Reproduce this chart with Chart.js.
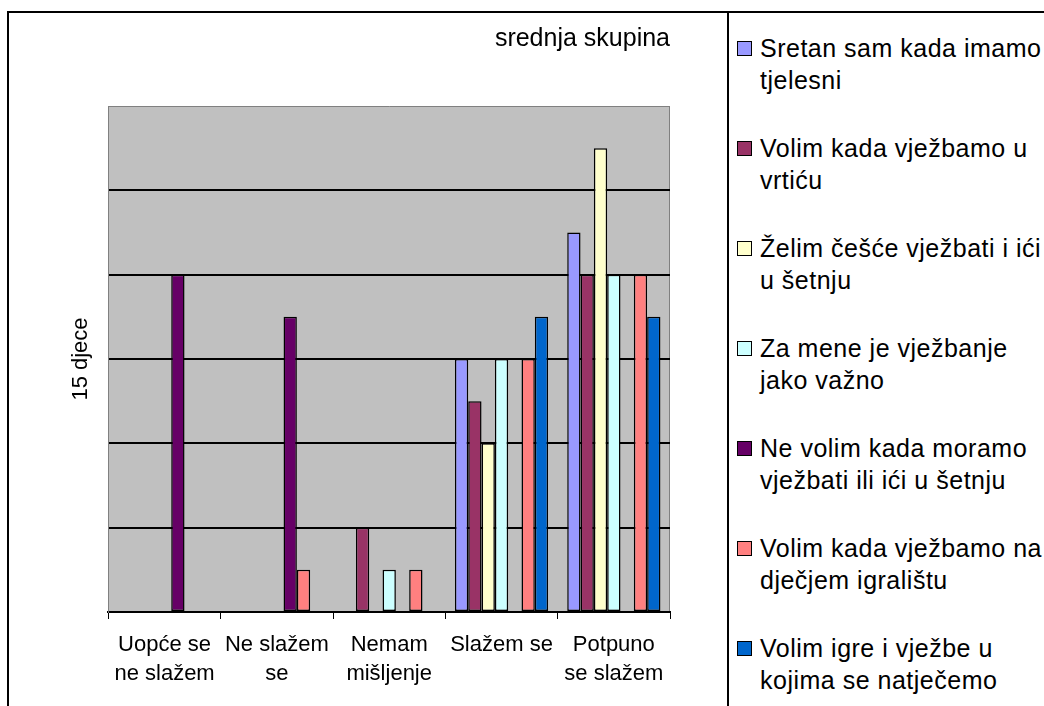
<!DOCTYPE html>
<html>
<head>
<meta charset="utf-8">
<script src="https://cdn.jsdelivr.net/npm/chart.js@4.4.1/dist/chart.umd.min.js"></script>
<style>
  html, body { margin: 0; padding: 0; background: #fff; }
  body { width: 1044px; height: 706px; position: relative; overflow: hidden; font-family: 'Liberation Sans', Arial, sans-serif; }
  #frame { position: absolute; left: 7px; top: 11px; right: 0; bottom: 0; border-left: 2px solid #000; border-top: 2px solid #000; }
  #plot { position: absolute; left: 0; top: 0; width: 718px; height: 693px; }
  #legend { position: absolute; left: 718px; top: 0; right: 0; bottom: 0; border-left: 2px solid #000; }
  #legend ul { list-style: none; margin: 0; padding: 19px 0 0 8px; }
  #legend li { display: flex; align-items: flex-start; margin-bottom: 36px; font-size: 25px; letter-spacing: 0.5px; line-height: 32px; color: #000; white-space: nowrap; }
  #legend .swatch { flex: none; box-sizing: border-box; width: 15px; height: 15px; border: 1px solid #000; margin: 9px 8px 0 0; }
</style>
</head>
<body>
<div id="frame">
  <div id="plot"><canvas id="skupinaChart"></canvas></div>
  <div id="legend"><ul id="legendList"></ul></div>
</div>
<script>
// odgovori srednje skupine (broj djece po tvrdnji)
const kategorije = [['Uopće se', 'ne slažem'], ['Ne slažem', 'se'], ['Nemam', 'mišljenje'], 'Slažem se', ['Potpuno', 'se slažem']];

const sretanTjelesni = [0, 0, 0, 6, 9];
const vjezbanjeVrtic = [0, 0, 2, 5, 8];
const cesceVjezbati = [0, 0, 0, 4, 11];
const vjezbanjeVazno = [0, 0, 1, 6, 8];
const neVolimVjezbati = [8, 7, 0, 0, 0];
const djecjeIgraliste = [0, 1, 1, 6, 8];
const igreNatjecanje = [0, 0, 0, 7, 7];

const nazivi = [
  ['Sretan sam kada imamo', 'tjelesni'],
  ['Volim kada vježbamo u', 'vrtiću'],
  ['Želim češće vježbati i ići', 'u šetnju'],
  ['Za mene je vježbanje', 'jako važno'],
  ['Ne volim kada moramo', 'vježbati ili ići u šetnju'],
  ['Volim kada vježbamo na', 'dječjem igralištu'],
  ['Volim igre i vježbe u', 'kojima se natječemo']
];
const vrijednosti = [sretanTjelesni, vjezbanjeVrtic, cesceVjezbati, vjezbanjeVazno, neVolimVjezbati, djecjeIgraliste, igreNatjecanje];
const boje = ['#9999FF', '#993366', '#FFFFCC', '#CCFFFF', '#660066', '#FF8080', '#0066CC'];

Chart.defaults.font.family = "'Liberation Sans', Arial, sans-serif";
Chart.defaults.color = '#000';

// sivo polje grafa i desni rub
const pozadina = {
  id: 'pozadina',
  beforeDraw(chart) {
    const { ctx, chartArea: { left, top, right, bottom } } = chart;
    ctx.save();
    ctx.fillStyle = '#C0C0C0';
    ctx.fillRect(left, top, right - left, bottom - top);
    ctx.strokeStyle = '#808080';
    ctx.lineWidth = 1;
    ctx.beginPath();
    ctx.moveTo(Math.round(right) - 0.5, top);
    ctx.lineTo(Math.round(right) - 0.5, bottom);
    ctx.stroke();
    ctx.restore();
  }
};

const ctx = document.getElementById('skupinaChart').getContext('2d');

const skupinaChart = new Chart(ctx, {
  type: 'bar',
  data: {
    labels: kategorije,
    datasets: vrijednosti.map((data, i) => ({
      label: nazivi[i],
      data: data,
      backgroundColor: boje[i],
      borderColor: '#000',
      borderWidth: 1.5,
      borderSkipped: false,
      categoryPercentage: 0.83,
      barPercentage: 1
    }))
  },
  options: {
    responsive: true,
    maintainAspectRatio: false,
    animation: false,
    layout: {
      padding: { left: 50, right: 57, top: 0, bottom: 7 }
    },
    scales: {
      x: {
        grid: {
          drawOnChartArea: false,
          drawTicks: true,
          tickLength: 7,
          color: '#000',
          lineWidth: 1,
          offset: true
        },
        border: { color: '#000', width: 2 },
        ticks: {
          color: '#000',
          font: { size: 22, lineHeight: '29px' },
          padding: 11,
          maxRotation: 0,
          minRotation: 0,
          autoSkip: false
        }
      },
      y: {
        min: 0,
        max: 12,
        ticks: { display: false, stepSize: 2 },
        grid: {
          drawTicks: false,
          color: (c) => c.tick.value === 12 ? '#808080' : '#000',
          lineWidth: (c) => c.tick.value === 12 ? 1 : 2
        },
        border: { color: '#808080', width: 1 },
        title: {
          display: true,
          text: '15 djece',
          color: '#000',
          font: { size: 22 },
          padding: { top: 9, bottom: 14 }
        }
      }
    },
    plugins: {
      legend: { display: false },
      tooltip: { enabled: false },
      title: {
        display: true,
        text: 'srednja skupina',
        align: 'end',
        color: '#000',
        font: { size: 25, weight: 'normal', lineHeight: '30px' },
        padding: { top: 11, bottom: 52 }
      }
    }
  },
  plugins: [pozadina]
});

// legenda desno od grafa, iz istih skupova podataka
const legendList = document.getElementById('legendList');
skupinaChart.data.datasets.forEach((ds) => {
  const li = document.createElement('li');
  const swatch = document.createElement('span');
  swatch.className = 'swatch';
  swatch.style.background = ds.backgroundColor;
  const text = document.createElement('span');
  ds.label.forEach((line, j) => {
    if (j > 0) text.appendChild(document.createElement('br'));
    text.appendChild(document.createTextNode(line));
  });
  li.appendChild(swatch);
  li.appendChild(text);
  legendList.appendChild(li);
});
</script>
</body>
</html>
